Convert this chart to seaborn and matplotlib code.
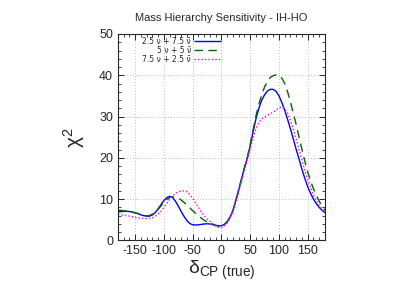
import numpy as np
import pandas as pd
import matplotlib
matplotlib.use("Agg")
import matplotlib.pyplot as plt
import seaborn as sns
from matplotlib.ticker import MultipleLocator

# delta_CP grid (degrees), 5 degree steps
delta_cp = list(range(-180, 181, 5))

chi2_25_75 = [6.9, 7.0, 7.05, 7.1, 7.0, 6.9, 6.7, 6.5, 6.2, 6.0, 5.9, 5.9, 6.2, 6.8,
              7.7, 8.7, 9.7, 10.4, 10.7, 10.4, 9.5, 8.3, 7.0, 5.8, 4.8, 4.1, 3.8,
              3.75, 3.8, 3.9, 4.0, 4.05, 4.0, 3.9, 3.7, 3.55, 3.6, 3.9, 4.6, 5.7,
              7.3, 9.8, 12.3, 15.0, 17.6, 20.0, 23.0, 26.3, 29.5, 32.0, 34.0, 35.3,
              36.2, 36.6, 36.6, 36.1, 35.0, 33.4, 31.5, 29.3, 27.0, 24.5, 22.0,
              19.7, 17.2, 15.0, 13.0, 11.4, 10.0, 8.9, 8.0, 7.3, 6.7]
chi2_5_5 = [7.3, 7.3, 7.2, 7.1, 7.0, 6.85, 6.7, 6.5, 6.3, 6.1, 6.0, 6.05, 6.4, 6.9,
            7.6, 8.4, 9.2, 9.9, 10.4, 10.55, 10.5, 10.2, 9.8, 9.2, 8.6, 7.9, 7.2,
            6.6, 6.0, 5.4, 4.9, 4.5, 4.1, 3.8, 3.6, 3.5, 3.6, 3.9, 4.5, 5.6, 7.2,
            9.6, 12.2, 15.0, 17.7, 20.2, 23.3, 26.8, 30.2, 33.0, 35.3, 37.2, 38.6,
            39.5, 39.9, 40.1, 40.0, 39.3, 38.0, 36.0, 33.5, 30.8, 28.0, 25.0, 22.0,
            19.2, 16.6, 14.4, 12.5, 10.9, 9.5, 8.3, 7.3]
chi2_75_25 = [6.3, 6.2, 6.1, 6.0, 5.9, 5.75, 5.6, 5.5, 5.4, 5.3, 5.3, 5.35, 5.5, 5.9,
              6.4, 7.1, 8.0, 9.0, 10.0, 10.8, 11.4, 11.8, 12.0, 12.05, 11.8, 11.1,
              10.2, 9.1, 8.0, 6.9, 6.0, 5.2, 4.6, 4.0, 3.5, 3.2, 3.2, 3.5, 4.2, 5.4,
              7.1, 9.3, 11.8, 14.5, 17.2, 19.8, 22.2, 25.0, 27.0, 28.6, 29.4, 29.9,
              30.3, 30.7, 31.1, 31.6, 32.1, 32.3, 32.0, 30.8, 29.0, 26.9, 24.5, 22.0,
              19.5, 17.0, 14.8, 12.8, 11.0, 9.6, 8.5, 7.6, 6.8]

labels = ["2.5 \u03bd + 7.5 \u03bd\u0304", "5 \u03bd + 5 \u03bd\u0304", "7.5 \u03bd + 2.5 \u03bd\u0304"]
colors = ["#0000ff", "#006400", "#ff00ff"]
styles = [(0, ()), (0, (6, 4)), (0, (1, 1.5))]

df = pd.concat([
    pd.DataFrame({"delta": delta_cp, "chi2": v, "run": lab})
    for v, lab in zip([chi2_25_75, chi2_5_5, chi2_75_25], labels)
])

sns.set_style("ticks")
plt.rcParams['font.family'] = ['Liberation Sans', 'DejaVu Sans']
plt.rcParams['axes.unicode_minus'] = False
plt.rcParams['mathtext.fontset'] = 'custom'
plt.rcParams['mathtext.rm'] = 'Liberation Sans'
plt.rcParams['mathtext.it'] = 'Liberation Sans:italic'

fig = plt.figure(figsize=(4.15, 2.9), dpi=100)
ax = fig.add_axes([0.2843, 0.1707, 0.4988, 0.7121])

for lab, c, ls in zip(labels, colors, styles):
    sub = df[df["run"] == lab]
    sns.lineplot(data=sub, x="delta", y="chi2", ax=ax, color=c, linestyle=ls,
                 linewidth=1.0, label=lab)

ax.set_xlim(-180, 180)
ax.set_ylim(0, 50)
ax.xaxis.set_major_locator(MultipleLocator(50))
ax.xaxis.set_minor_locator(MultipleLocator(10))
ax.yaxis.set_major_locator(MultipleLocator(10))
ax.yaxis.set_minor_locator(MultipleLocator(2))
ax.tick_params(which="both", direction="in", top=True, right=True, labelsize=9)
ax.tick_params(which="major", length=4, width=0.7)
ax.tick_params(which="minor", length=2, width=0.6)
ax.grid(True, which="major", color="#bbbbbb", linestyle=(0, (1, 2)), linewidth=0.7)
for s in ax.spines.values():
    s.set_linewidth(0.8)

ax.set_xlabel("$\\mathrm{\u03b4}_{\\mathrm{CP\\ (true)}}$", fontsize=14, labelpad=1)
ax.set_ylabel("$\\mathrm{\u03c7}^{2}$", fontsize=15, labelpad=9)
ax.set_title("Mass Hierarchy Sensitivity - IH-HO", fontsize=8, pad=9)

leg = ax.legend(loc="upper right", bbox_to_anchor=(0.5, 0.99), frameon=False,
                markerfirst=False, prop={"family": "DejaVu Sans", "size": 5.5},
                handlelength=3.5, handletextpad=0.4, labelspacing=0.0,
                borderaxespad=0, borderpad=0.1)
for t in leg.get_texts():
    t.set_ha("right")
leg._legend_box.align = "right"

fig.savefig("out.png", dpi=100)
